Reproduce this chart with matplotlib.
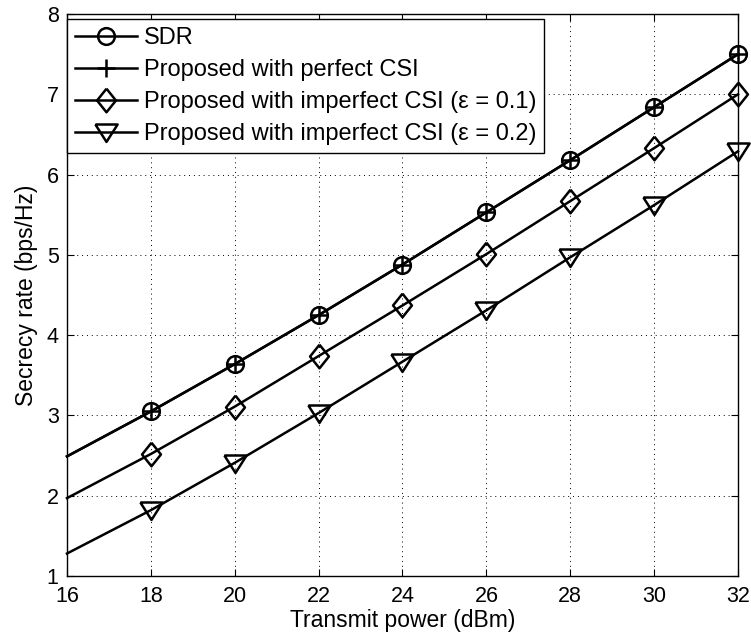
import matplotlib
matplotlib.use('Agg')
import matplotlib.pyplot as plt

plt.rcParams['font.family'] = ['Liberation Sans', 'DejaVu Sans']

power = [16, 18, 20, 22, 24, 26, 28, 30, 32]
sdr = [2.49, 3.05, 3.64, 4.25, 4.88, 5.53, 6.18, 6.84, 7.50]
perfect = [2.49, 3.05, 3.64, 4.25, 4.88, 5.53, 6.18, 6.84, 7.50]
eps01 = [1.97, 2.52, 3.11, 3.74, 4.37, 5.01, 5.67, 6.33, 7.00]
eps02 = [1.28, 1.82, 2.41, 3.03, 3.67, 4.31, 4.97, 5.62, 6.29]
labels = ['SDR', 'Proposed with perfect CSI',
          'Proposed with imperfect CSI (ε = 0.1)',
          'Proposed with imperfect CSI (ε = 0.2)']

# matlab style markers: wider diamond, flatter triangle
diamond = [(0, 1), (0.8, 0), (0, -1), (-0.8, 0), (0, 1)]
tri_down = [(-1, 0.72), (1, 0.72), (0, -0.85), (-1, 0.72)]

fig = plt.figure(figsize=(7.51, 6.39), dpi=100)
ax = fig.add_axes([0.0892, 0.0986, 0.8935, 0.8794])

kw = dict(color='black', lw=1.8, markevery=slice(1, None),
          markerfacecolor='none', markeredgewidth=1.8, clip_on=False)
ax.plot(power, sdr, marker='o', markersize=12, label=labels[0], **kw)
ax.plot(power, perfect, marker='+', markersize=13, label=labels[1], **kw)
ax.plot(power, eps01, marker=diamond, markersize=17, label=labels[2], **kw)
ax.plot(power, eps02, marker=tri_down, markersize=16, label=labels[3], **kw)

ax.set_xlim(16, 32)
ax.set_ylim(1, 8)
ax.set_xticks(range(16, 33, 2))
ax.set_yticks(range(1, 9))
ax.grid(True, linestyle=(0, (1, 4)), color='black', linewidth=0.7)
ax.tick_params(direction='in', top=True, right=True, labelsize=15.5, length=5)
ax.tick_params(axis='x', pad=7)
ax.tick_params(axis='y', pad=6)
for s in ax.spines.values():
    s.set_linewidth(1.0)
ax.set_xlabel('Transmit power (dBm)', fontsize=16.5, labelpad=2)
ax.set_ylabel('Secrecy rate (bps/Hz)', fontsize=16.5, labelpad=6)

leg = ax.legend(loc='upper left', bbox_to_anchor=(0.0, 0.991), fontsize=17,
                handlelength=2.6, fancybox=False, framealpha=1,
                edgecolor='black', borderaxespad=0, labelspacing=0.42,
                handletextpad=0.3, borderpad=0.35)
leg.get_frame().set_linewidth(1.0)

fig.savefig('out.png', dpi=100)
